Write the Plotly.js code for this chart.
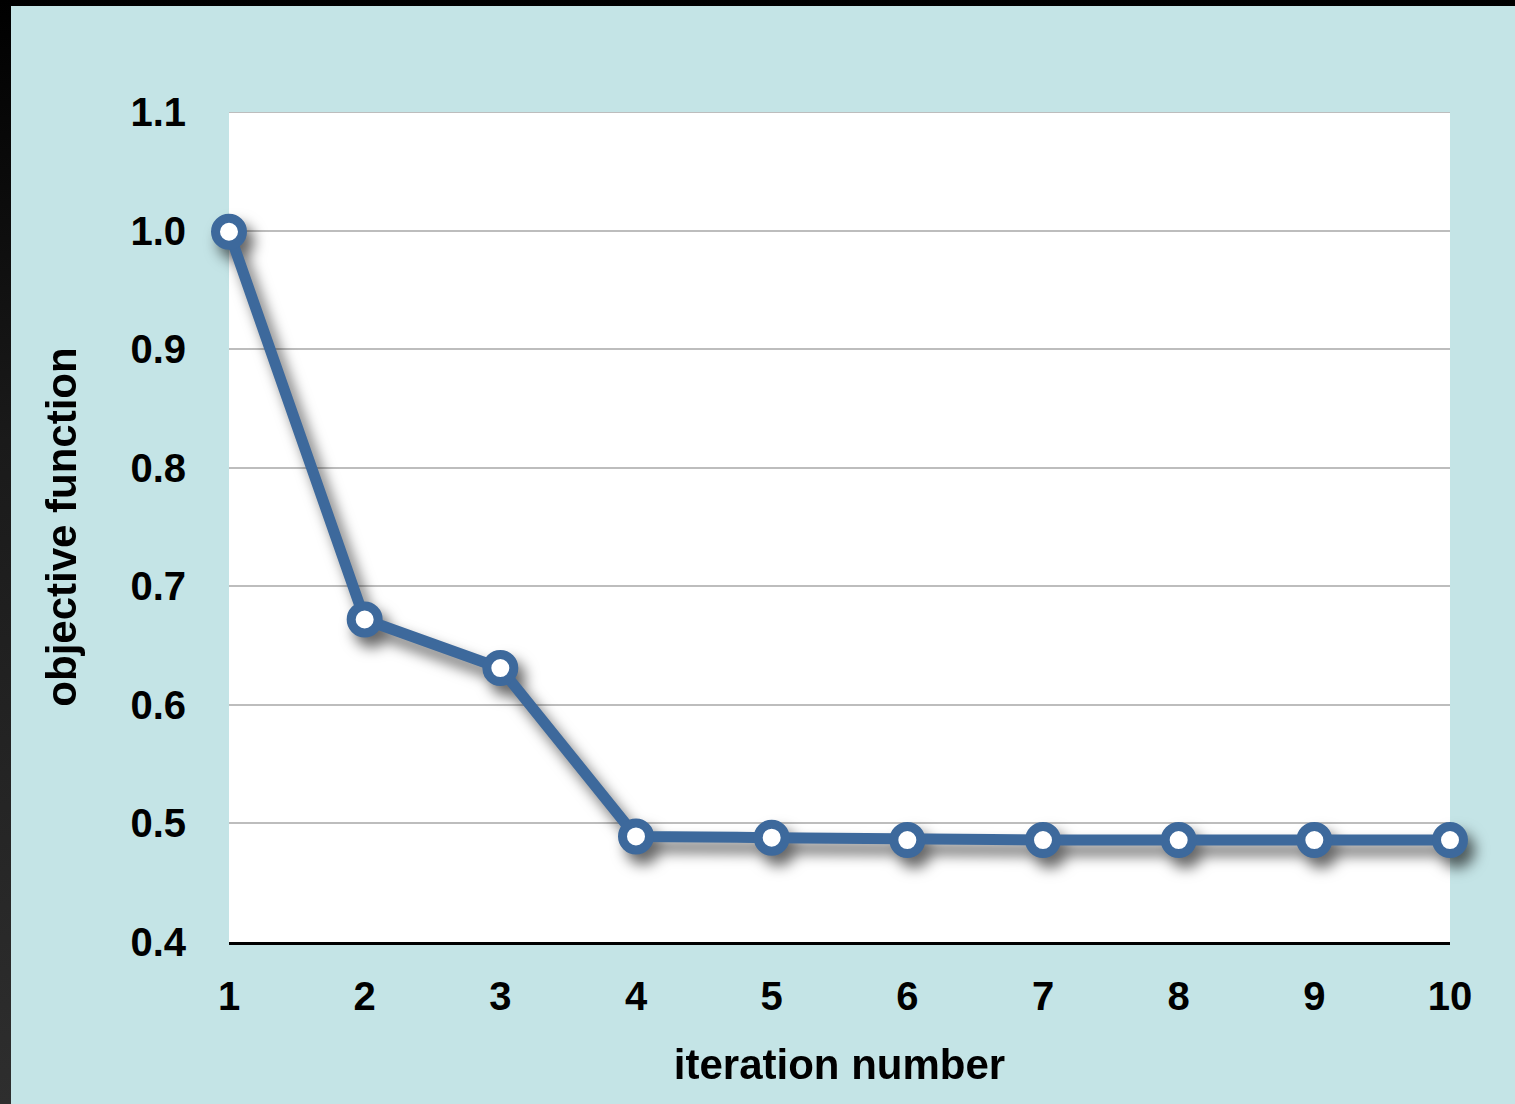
<!DOCTYPE html>
<html>
<head>
<meta charset="utf-8">
<script src="https://cdn.plot.ly/plotly-3.0.1.min.js"></script>
<style>
  html, body { margin: 0; padding: 0; width: 1515px; height: 1104px; overflow: hidden;
    background: linear-gradient(to bottom, #000000 0%, #1a1a1a 40%, #2e2e2e 100%); }
  #chart { position: absolute; left: 11px; top: 6px; width: 1504px; height: 1098px; }
  #chart .scatterlayer .trace { filter: drop-shadow(7px 10px 7px rgba(0,0,0,0.6)); }
</style>
</head>
<body>
<div id="chart"></div>
<script>
const iterations = [1, 2, 3, 4, 5, 6, 7, 8, 9, 10];
const objectiveValues = [0.999, 0.672, 0.631, 0.489, 0.488, 0.486, 0.486, 0.486, 0.486, 0.486];
const yTickValues = [0.4, 0.5, 0.6, 0.7, 0.8, 0.9, 1.0, 1.1];
const xTitle = "iteration number";
const yTitle = "objective function";

const lineColor = "#3d699c";
const fontFamily = "'Liberation Sans', Arial, Helvetica, sans-serif";

const trace = {
  x: iterations,
  y: objectiveValues,
  type: "scatter",
  mode: "lines+markers",
  line: { color: lineColor, width: 11 },
  marker: { size: 27, color: "#ffffff", line: { color: lineColor, width: 9 } },
  cliponaxis: false,
  hoverinfo: "x+y"
};

const yTop = yTickValues[yTickValues.length - 1];

const layout = {
  width: 1504,
  height: 1098,
  paper_bgcolor: "#c4e4e6",
  plot_bgcolor: "#ffffff",
  margin: { l: 218, r: 65, t: 106, b: 162 },
  showlegend: false,
  font: { family: fontFamily, color: "#000000" },
  xaxis: {
    range: [1, 10],
    tickvals: iterations,
    showgrid: false,
    zeroline: false,
    showline: true,
    linecolor: "#000000",
    linewidth: 3,
    ticks: "",
    ticklabelstandoff: 17,
    tickfont: { family: fontFamily, size: 40, color: "#000000", weight: "bold" },
    title: { text: "<b>" + xTitle + "</b>", font: { family: fontFamily, size: 42, color: "#000000" }, standoff: 33 }
  },
  yaxis: {
    range: [0.4, 1.1],
    tickvals: yTickValues,
    tickformat: ".1f",
    showgrid: true,
    gridcolor: "#bdbdbd",
    gridwidth: 2,
    zeroline: false,
    showline: false,
    ticks: "",
    ticklabelstandoff: 42,
    tickfont: { family: fontFamily, size: 40, color: "#000000", weight: "bold" },
    title: { text: "<b>" + yTitle + "</b>", font: { family: fontFamily, size: 42, color: "#000000" }, standoff: 40 }
  },
  shapes: [{
    type: "line", xref: "paper", yref: "y", x0: 0, x1: 1, y0: yTop, y1: yTop,
    line: { color: "#bdbdbd", width: 2 }, layer: "below"
  }]
};

Plotly.newPlot("chart", [trace], layout, { displayModeBar: false });
</script>
</body>
</html>
